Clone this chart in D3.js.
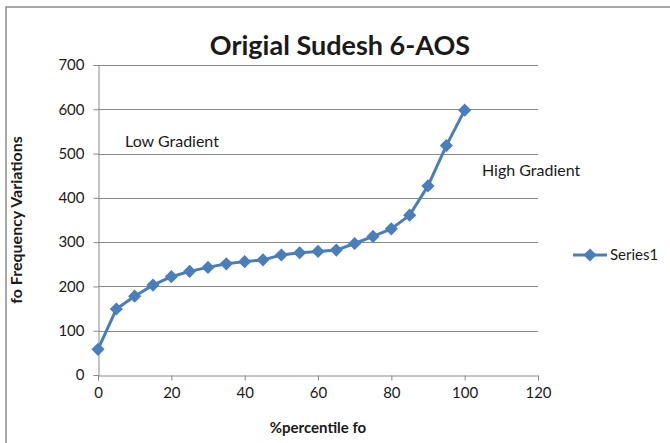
<!DOCTYPE html>
<html>
<head>
<meta charset="utf-8">
<script src="https://cdn.jsdelivr.net/npm/d3@7"></script>
<style>
  body { margin: 0; background: #fff; }
  text { font-family: Lato, "Open Sans", sans-serif; fill: #1a1a1a; }
</style>
</head>
<body>
<svg id="chart" width="670" height="443"></svg>
<script>
// percentile steps and fo values
const percentiles = [0, 5, 10, 15, 20, 25, 30, 35, 40, 45, 50, 55, 60, 65, 70, 75, 80, 85, 90, 95, 100];
const series1 = [58, 149, 178, 203, 222, 234, 243, 251, 256, 260, 271, 276, 279, 282, 297, 313, 330, 361, 427, 518, 598];
const xTicks = [0, 20, 40, 60, 80, 100, 120];
const yTicks = [0, 100, 200, 300, 400, 500, 600, 700];
const seriesName = "Series1";

const svg = d3.select("#chart");
const blue = "#4a7ebb";

// outer chart border (cut at the right and bottom)
svg.append("rect")
    .attr("x", 6).attr("y", 7)
    .attr("width", 700).attr("height", 500)
    .attr("fill", "none")
    .attr("stroke", "#8c8c8c")
    .attr("stroke-width", 1.5);

const x = d3.scaleLinear().domain([0, 120]).range([98, 538]);
const y = d3.scaleLinear().domain([0, 700]).range([375, 65]);

// gridlines
svg.append("g")
    .selectAll("line")
    .data(yTicks.slice(1))
    .enter().append("line")
        .attr("x1", x(0)).attr("x2", x(120))
        .attr("y1", d => Math.round(y(d)) + 0.5)
        .attr("y2", d => Math.round(y(d)) + 0.5)
        .attr("stroke", "#8a8a8a");

const xAxis = svg.append("g")
    .attr("transform", `translate(0,${Math.round(y(0)) + 0.5})`)
    .call(d3.axisBottom(x).tickValues(xTicks).tickSize(5).tickPadding(7));
const yAxis = svg.append("g")
    .attr("transform", `translate(${Math.round(x(0)) + 0.5},0)`)
    .call(d3.axisLeft(y).tickValues(yTicks).tickSize(5).tickPadding(9));

[xAxis, yAxis].forEach(a => {
    a.select(".domain").attr("stroke", "#8a8a8a");
    a.selectAll(".tick line").attr("stroke", "#8a8a8a");
    a.selectAll(".tick text")
        .attr("font-family", "Lato, sans-serif")
        .attr("font-size", 15)
        .attr("fill", "#1a1a1a");
});

// series
const line = d3.line()
    .x((d, i) => x(percentiles[i]))
    .y(d => y(d));

svg.append("path")
    .datum(series1)
    .attr("d", line)
    .attr("fill", "none")
    .attr("stroke", blue)
    .attr("stroke-width", 3)
    .attr("stroke-linejoin", "round");

const diamond = d3.symbol().type(d3.symbolDiamond2).size(110);
svg.append("g")
    .selectAll("path")
    .data(series1)
    .enter().append("path")
        .attr("d", diamond)
        .attr("transform", (d, i) => `translate(${x(percentiles[i])},${y(d)})`)
        .attr("fill", blue);

// title and axis titles
svg.append("text")
    .attr("x", 340).attr("y", 55)
    .attr("text-anchor", "middle")
    .attr("font-size", 27)
    .attr("font-weight", "bold")
    .text("Origial Sudesh 6-AOS");

svg.append("text")
    .attr("transform", "translate(22,220) rotate(-90)")
    .attr("text-anchor", "middle")
    .attr("font-size", 16)
    .attr("font-weight", "bold")
    .text("fo Frequency Variations");

svg.append("text")
    .attr("x", 318).attr("y", 433)
    .attr("text-anchor", "middle")
    .attr("font-size", 15)
    .attr("font-weight", "bold")
    .text("%percentile fo");

// annotations
svg.append("text")
    .attr("x", 125).attr("y", 147)
    .attr("font-size", 16)
    .text("Low Gradient");

svg.append("text")
    .attr("x", 482).attr("y", 176)
    .attr("font-size", 16)
    .text("High Gradient");

// legend
const legend = svg.append("g").attr("transform", "translate(573,255)");
legend.append("line")
    .attr("x1", 0).attr("x2", 34)
    .attr("stroke", blue).attr("stroke-width", 3);
legend.append("path")
    .attr("d", diamond)
    .attr("transform", "translate(17,0)")
    .attr("fill", blue);
legend.append("text")
    .attr("x", 37).attr("y", 5)
    .attr("font-size", 15)
    .text(seriesName);
</script>
</body>
</html>
